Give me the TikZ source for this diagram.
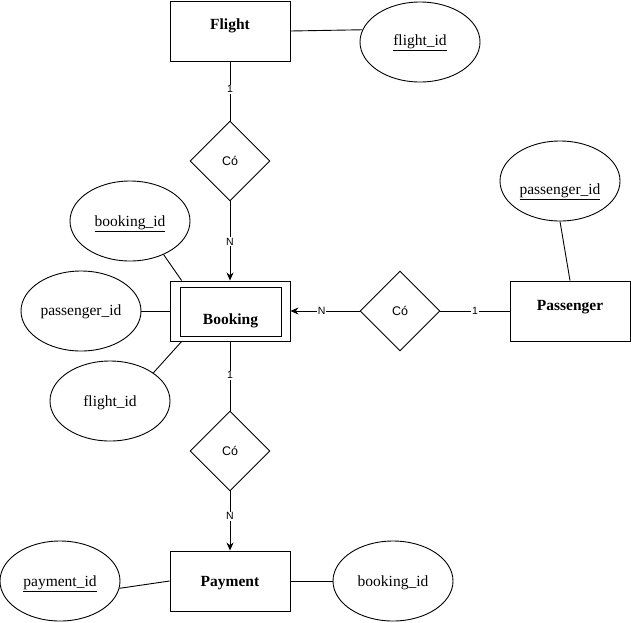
\documentclass[tikz,border=0pt]{standalone}
\usepackage{fontspec}
\setmainfont{Liberation Serif}
\newfontfamily\lblfont{Liberation Sans}
\usetikzlibrary{shapes.geometric,arrows.meta,calc}
\newcommand\lowtext[2]{\raisebox{-#1pt}[0pt][0pt]{#2}}
\tikzset{
  entity/.style={draw,rectangle,minimum width=120pt,minimum height=60pt,inner sep=0pt,font=\fontsize{15.5}{18}\selectfont\bfseries},
  attr/.style={draw,ellipse,minimum width=120pt,minimum height=80pt,inner sep=0pt,font=\fontsize{15.5}{18}\selectfont},
  rel/.style={draw,diamond,minimum width=80pt,minimum height=80pt,inner sep=0pt,font=\lblfont\fontsize{12.5}{15}\selectfont},
  lbl/.style={fill=white,inner sep=1pt,font=\lblfont\fontsize{10.5}{12}\selectfont},
  conn/.style={line width=0.9pt},
  arr/.style={conn,-{Stealth[length=8pt,width=7pt]}}
}
\begin{document}
\begin{tikzpicture}[x=1pt,y=-1pt,line width=0.9pt]
\useasboundingbox (0,0) rectangle (631,622);
% entities
\node[entity] (flight) at (230,31) {\lowtext{-1.7}{Flight}};
\node[entity] (booking) at (230,311) {};
\node[draw,rectangle,minimum width=101pt,minimum height=49pt,inner sep=0pt,font=\fontsize{15.5}{18}\selectfont\bfseries] (bookingin) at (230.5,311.5) {\lowtext{12.5}{Booking}};
\node[entity] (passenger) at (570,311) {\lowtext{-1}{Passenger}};
\node[entity] (payment) at (230,581) {\lowtext{5.7}{Payment}};
% relationships
\node[rel] (r1) at (230,161) {Có};
\node[rel] (r2) at (400,311) {Có};
\node[rel] (r3) at (230,451) {Có};
% attributes
\node[attr] (fid) at (420,42) {\lowtext{3}{\underline{flight\_id}}};
\node[attr] (bid) at (130,221) {\lowtext{5.5}{\underline{booking\_id}}};
\node[attr] (pl) at (81,311) {\lowtext{4.7}{passenger\_id}};
\node[attr] (fl) at (110,401) {\lowtext{5.5}{flight\_id}};
\node[attr] (pid) at (560,181) {\lowtext{13}{\underline{passenger\_id}}};
\node[attr] (payid) at (60,581) {\lowtext{5.7}{\underline{payment\_id}}};
\node[attr] (bid2) at (393,581) {\lowtext{5.7}{booking\_id}};
% attribute connectors
\draw[conn] (flight.east) -- (fid.168);
\draw[conn] (bid.-45) -- ($(booking.north west)!0.1!(booking.north east)$);
\draw[conn] (pl.east) -- (booking.west);
\draw[conn] (fl.33) -- ($(booking.south west)!0.1!(booking.south east)$);
\draw[conn] (pid.south) -- (passenger.north);
\draw[conn] (payid.-7) -- (payment.west);
\draw[conn] (payment.east) -- (bid2.west);
% relationship connectors
\draw[conn] (flight.south) -- node[lbl,pos=0.47] {1} (r1.north);
\draw[arr] (r1.south) -- node[lbl,pos=0.51] {N} (booking.north);
\draw[arr] (r2.west) -- node[lbl,pos=0.55] {N} (booking.east);
\draw[conn] (r2.east) -- node[lbl,pos=0.5] {1} (passenger.west);
\draw[conn] (booking.south) -- node[lbl,pos=0.49] {1} (r3.north);
\draw[arr] (r3.south) -- node[lbl,pos=0.42] {N} (payment.north);
\end{tikzpicture}
\end{document}
